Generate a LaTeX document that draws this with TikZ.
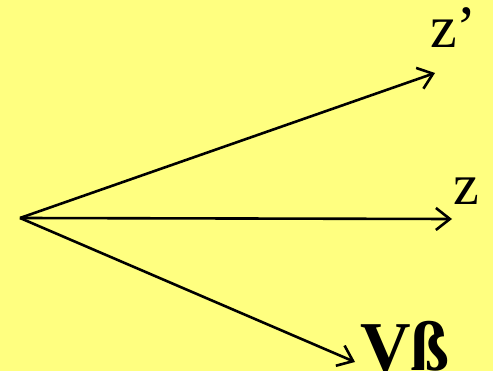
\documentclass[tikz,border=0pt]{standalone}
\usepackage{fontspec}
\setmainfont{Liberation Serif}
\usetikzlibrary{arrows.meta}
\definecolor{bgyellow}{RGB}{255,255,128}
\tikzset{
  vec/.style={line width=2.6pt, -{Straight Barb[length=14pt,width=22pt,line width=2.6pt]}},
  lbl/.style={inner sep=0pt, anchor=base west, text=black}
}
\begin{document}
\begin{tikzpicture}[x=1pt,y=-1pt]
\fill[bgyellow] (0,0) rectangle (493,371);
\useasboundingbox (0,0) rectangle (493,371);
\coordinate (O) at (20,218);
\coordinate (tzp) at (435,73);
\coordinate (tz) at (452,219);
\coordinate (tv) at (355,362);
\draw[vec] (O) -- (tzp);
\draw[vec] (O) -- (tz);
\draw[vec] (O) -- (tv);
\node[lbl, font=\fontsize{60}{60}\selectfont] (zp) at (430,48) {z’};
\node[lbl, font=\fontsize{58}{58}\selectfont] (z) at (453,205) {z};
\node[lbl, font=\fontsize{70}{70}\selectfont\bfseries] (vb) at (360,371) {Vß};
\end{tikzpicture}
\end{document}
